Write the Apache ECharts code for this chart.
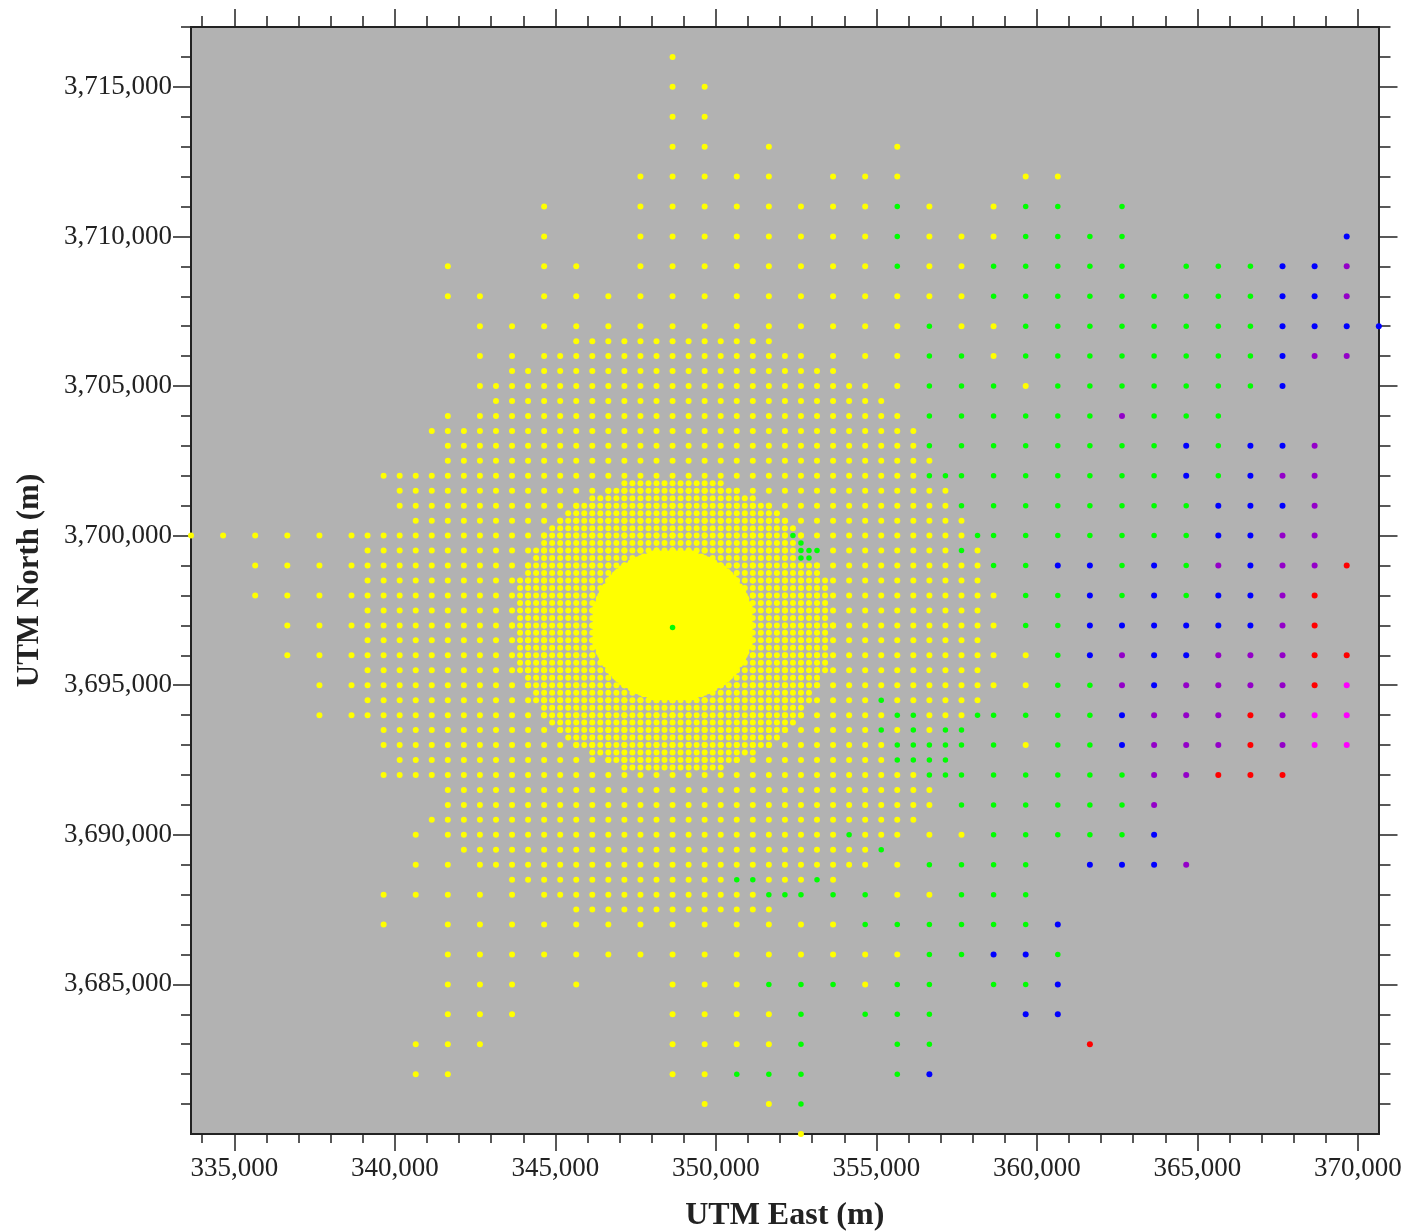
<!DOCTYPE html>
<html><head><meta charset="utf-8">
<style>html,body{margin:0;padding:0;background:#fff}#c{width:1408px;height:1232px}</style>
<script src="https://cdn.jsdelivr.net/npm/echarts@6/dist/echarts.min.js"></script>
</head><body><div id="c"></div>
<script>
// All coordinates in km (UTM). A row is [north, entries]; an entry is an east value or a span [from, to, step].
const xMajor=[335,340,345,350,355,360,365,370];
const yMajor=[3685,3690,3695,3700,3705,3710,3715];
const xMinor=[334,336,337,338,339,341,342,343,344,346,347,348,349,351,352,353,354,356,357,358,359,361,362,363,364,366,367,368,369];
const yMinor=[3681,3682,3683,3684,3686,3687,3688,3689,3691,3692,3693,3694,3696,3697,3698,3699,3701,3702,3703,3704,3706,3707,3708,3709,3711,3712,3713,3714,3716,3717];
const source=[348.65,3697];
// half widths of the filled rows around the source, from the centre row outwards
const ringHalfWidths=[5,4.75,4.75,4.75,4.75,4.75,4.75,4.5,4.5,4.25,4.25,4,4,3.75,3.5,3.25,3,2.5,2,1.5];
const diskHalfWidths=[2.5,2.4,2.4,2.4,2.4,2.4,2.4,2.4,2.3,2.3,2.2,2.2,2.1,2.1,2,2,1.9,1.8,1.7,1.6,1.5,1.3,1.1,.9,.7,0];
const yellowRows=[
[3716,[348.65]],[3715,[348.65,349.65]],[3714,[348.65,349.65]],[3713,[348.65,349.65,351.65,355.65]],
[3712,[347.65,348.65,349.65,350.65,351.65,353.65,354.65,355.65,359.65,360.65]],
[3711,[344.65,[347.65,354.65,1],356.65,358.65]],
[3710,[344.65,[347.65,354.65,1],356.65,357.65,358.65]],
[3709,[341.65,344.65,345.65,[347.65,354.65,1],356.65,357.65]],
[3708,[341.65,342.65,344.65,345.65,346.65,[347.65,357.65,1]]],
[3707,[342.65,343.65,344.65,345.65,346.65,[347.65,355.65,1],357.65,358.65]],
[3706.5,[[345.65,351.65,.5]]],
[3706,[342.65,343.65,344.65,[345.15,352.65,.5],353.65,354.65,355.65,358.65]],
[3705.5,[[343.65,353.65,.5]]],
[3705,[[342.65,354.65,.5],355.65,359.65]],
[3704.5,[[343.15,355.15,.5]]],
[3704,[341.65,[342.65,355.65,.5]]],
[3703.5,[[341.15,356.15,.5]]],
[3703,[[341.65,356.15,.5]]],
[3702.5,[[341.65,356.65,.5]]],
[3702,[[339.65,356.15,.5]]],
[3701.5,[[340.15,357.15,.5]]],
[3701,[[340.15,357.15,.5]]],
[3700.5,[[340.65,357.65,.5]]],
[3700,[333.65,334.65,335.65,336.65,337.65,338.65,[339.15,357.65,.5]]],
[3699.5,[[339.15,358.15,.5]]],
[3699,[335.65,336.65,337.65,338.65,[339.15,358.15,.5]]],
[3698.5,[[339.15,358.15,.5]]],
[3698,[335.65,336.65,337.65,338.65,[339.15,358.65,.5]]],
[3697.5,[[339.15,358.15,.5]]],
[3697,[336.65,337.65,338.65,[339.15,358.65,.5]]],
[3696.5,[[339.15,358.15,.5]]],
[3696,[336.65,337.65,338.65,[339.15,358.65,.5],359.65]],
[3695.5,[[339.15,358.15,.5]]],
[3695,[337.65,338.65,[339.15,358.65,.5],359.65]],
[3694.5,[[339.15,358.15,.5]]],
[3694,[337.65,338.65,[339.15,357.65,.5]]],
[3693.5,[[339.65,357.15,.5]]],
[3693,[[339.65,355.15,.5],359.65]],
[3692.5,[[340.15,355.15,.5]]],
[3692,[339.65,[340.15,356.15,.5]]],
[3691.5,[[341.65,356.65,.5]]],
[3691,[[341.65,356.65,.5]]],
[3690.5,[[341.15,356.15,.5]]],
[3690,[340.65,[341.65,355.65,.5],356.65,357.65]],
[3689.5,[[342.15,354.65,.5]]],
[3689,[340.65,341.65,[342.65,354.65,.5],355.65]],
[3688.5,[[343.65,353.65,.5]]],
[3688,[339.65,340.65,341.65,342.65,343.65,[344.65,351.15,.5],355.65,356.65]],
[3687.5,[[345.65,351.65,.5]]],
[3687,[339.65,[341.65,353.65,1]]],
[3686,[[341.65,355.65,1]]],
[3685,[341.65,342.65,343.65,345.65,348.65,349.65,350.65,354.65]],
[3684,[341.65,342.65,343.65,348.65,349.65,350.65,351.65]],
[3683,[340.65,341.65,342.65,348.65,349.65,350.65,351.65]],
[3682,[340.65,341.65,348.65,349.65]],
[3681,[349.65,351.65]],
[3680,[352.65]]];
const greenRows=[
[3711,[355.65,359.65,360.65,362.65]],
[3710,[355.65,359.65,360.65,361.65,362.65]],
[3709,[355.65,358.65,359.65,360.65,361.65,362.65,364.65,365.65,366.65]],
[3708,[[358.65,366.65,1]]],
[3707,[356.65,[359.65,366.65,1]]],
[3706,[356.65,357.65,[359.65,366.65,1]]],
[3705,[356.65,357.65,358.65,[360.65,366.65,1]]],
[3704,[356.65,357.65,358.65,359.65,360.65,361.65,363.65,364.65,365.65]],
[3703,[356.65,357.65,358.65,359.65,360.65,361.65,362.65,363.65,365.65]],
[3702,[356.65,357.15,357.65,358.65,359.65,360.65,361.65,362.65,363.65,365.65]],
[3701,[357.65,358.65,359.65,360.65,361.65,362.65,363.65,364.65]],
[3700,[352.4,358.15,358.65,359.65,360.65,361.65,362.65,363.65,364.65]],
[3699.75,[352.65]],
[3699.5,[352.65,352.9,353.15,357.65]],
[3699.25,[352.65,352.9]],
[3699,[358.65,359.65,362.65,364.65]],
[3698,[359.65,360.65,362.65,364.65]],
[3697,[359.65,360.65]],
[3696.93,[348.65]],
[3696,[360.65]],
[3695,[360.65,361.65]],
[3694.5,[355.15]],
[3694,[355.65,356.15,358.15,358.65,359.65,360.65,361.65]],
[3693.5,[355.15,356.15,357.15,357.65]],
[3693,[355.65,356.15,356.65,357.15,357.65,358.65,360.65,361.65]],
[3692.5,[355.65,356.15,356.65,357.15]],
[3692,[356.65,357.15,357.65,358.65,359.65,360.65,361.65,362.65]],
[3691,[357.65,358.65,359.65,360.65,361.65,362.65]],
[3690,[354.15,358.65,359.65,360.65,361.65,362.65]],
[3689.5,[355.15]],
[3689,[356.65,357.65,358.65,359.65]],
[3688.5,[350.65,351.15,353.15]],
[3688,[351.65,352.15,352.65,353.65,354.65,357.65,358.65,359.65]],
[3687,[354.65,355.65,356.65,357.65,358.65,359.65]],
[3686,[356.65,357.65,360.65]],
[3685,[351.65,352.65,353.65,355.65,356.65,358.65,359.65]],
[3684,[352.65,354.65,355.65,356.65]],
[3683,[352.65,355.65,356.65]],
[3682,[350.65,351.65,352.65,355.65]],
[3681,[352.65]]];
const blueRows=[
[3710,[369.65]],[3709,[367.65,368.65]],[3708,[367.65,368.65]],[3707,[367.65,368.65,369.65,370.65]],
[3706,[367.65]],[3705,[367.65]],[3703,[364.65,366.65,367.65]],[3702,[364.65,366.65]],
[3701,[365.65,366.65,367.65]],[3700,[365.65,366.65]],[3699,[360.65,361.65,363.65,366.65]],
[3698,[361.65,363.65,365.65,366.65]],[3697,[361.65,362.65,363.65,364.65,365.65,366.65]],
[3696,[361.65,363.65,364.65]],[3695,[363.65]],[3694,[362.65]],[3693,[362.65]],[3690,[363.65]],
[3689,[361.65,362.65,363.65]],[3687,[360.65]],[3686,[358.65,359.65]],[3685,[360.65]],
[3684,[359.65,360.65]],[3682,[356.65]]];
const purpleRows=[
[3709,[369.65]],[3708,[369.65]],[3706,[368.65,369.65]],[3704,[362.65]],[3703,[368.65]],
[3702,[367.65,368.65]],[3701,[368.65]],[3700,[367.65,368.65]],[3699,[365.65,367.65,368.65]],
[3698,[367.65]],[3697,[367.65]],[3696,[362.65,365.65,366.65,367.65]],
[3695,[362.65,364.65,365.65,366.65,367.65]],[3694,[363.65,364.65,365.65,367.65]],
[3693,[363.65,364.65,365.65,367.65]],[3692,[363.65,364.65]],[3691,[363.65]],[3689,[364.65]]];
const redRows=[
[3699,[369.65]],[3698,[368.65]],[3697,[368.65]],[3696,[368.65,369.65]],[3695,[368.65]],
[3694,[366.65]],[3693,[366.65]],[3692,[365.65,366.65,367.65]],[3683,[361.65]]];
const magentaRows=[[3695,[369.65]],[3694,[368.65,369.65]],[3693,[368.65,369.65]]];

const km=v=>Math.round(v*1000);
function expand(rows){
  const out=[];
  rows.forEach(([n,items])=>items.forEach(it=>{
    if(Array.isArray(it)){ for(let x=km(it[0]);x<=km(it[1]);x+=km(it[2])) out.push([x,km(n)]); }
    else out.push([km(it),km(n)]);
  }));
  return out;
}
function symmetric(widths,step){
  const rows=[];
  widths.forEach((w,i)=>{
    const d=i*step;
    rows.push([source[1]+d,[[source[0]-w,source[0]+w,step]]]);
    if(i) rows.push([source[1]-d,[[source[0]-w,source[0]+w,step]]]);
  });
  return rows;
}
const layers=[
 {rows:greenRows,color:'#00ff00',size:5.5},
 {rows:blueRows,color:'#0000ff',size:6},
 {rows:purpleRows,color:'#9400c8',size:6},
 {rows:redRows,color:'#ff0000',size:6},
 {rows:magentaRows,color:'#ff00ff',size:6}
].map(l=>({...l,data:expand(l.rows)}));
const taken=new Set();
layers.forEach(l=>l.data.forEach(p=>{taken.add(p[0]+'|'+p[1]);}));
const yellow=expand(yellowRows).concat(expand(symmetric(ringHalfWidths,.25)),expand(symmetric(diskHalfWidths,.1)))
  .filter(p=>!taken.has(p[0]+'|'+p[1]));
const mk=(data,color,size)=>({type:'scatter',data,symbol:'circle',symbolSize:size,clip:false,silent:true,animation:false,itemStyle:{color,opacity:1},xAxisIndex:0,yAxisIndex:0});

const xMin=333650,xMax=370640,yMin=3680000,yMax=3717000;
const ink='#222';
const fmt=v=>Number(v).toLocaleString('en-US');
const labelFont={fontFamily:'"Liberation Serif"',fontSize:27,color:'#222'};
const m=a=>a.map(km);
const hx=(position,vals,length,extra)=>Object.assign({type:'value',position,min:xMin,max:xMax,splitLine:{show:false},
  axisLine:{show:true,onZero:false,lineStyle:{color:ink,width:2}},
  axisTick:{show:true,length,customValues:m(vals),lineStyle:{color:ink,width:1.5}},axisLabel:{show:false}},extra||{});
const hy=(position,vals,length,extra)=>Object.assign({type:'value',position,min:yMin,max:yMax,splitLine:{show:false},
  axisLine:{show:true,onZero:false,lineStyle:{color:ink,width:2}},
  axisTick:{show:true,length,customValues:m(vals),lineStyle:{color:ink,width:1.5}},axisLabel:{show:false}},extra||{});

const chart=echarts.init(document.getElementById('c'),null,{renderer:'canvas'});
chart.setOption({
  animation:false,
  backgroundColor:'#ffffff',
  grid:{left:191,top:27,width:1187.5,height:1107,show:true,backgroundColor:'#b2b2b2',borderWidth:0,containLabel:false,outerBoundsMode:'none'},
  xAxis:[
    hx('bottom',xMajor,17,{name:'UTM East (m)',nameLocation:'middle',nameGap:66,
      nameTextStyle:{fontFamily:'"Liberation Serif"',fontSize:32,fontWeight:'bold',color:'#222'},
      axisLabel:Object.assign({show:true,margin:21,customValues:m(xMajor),formatter:fmt},labelFont)}),
    hx('bottom',xMinor,9),
    hx('top',xMajor,18),
    hx('top',xMinor,11)
  ],
  yAxis:[
    hy('left',yMajor,18,{name:'UTM North (m)',nameLocation:'middle',nameGap:146,
      nameTextStyle:{fontFamily:'"Liberation Serif"',fontSize:31,fontWeight:'bold',color:'#222'},
      axisLabel:Object.assign({show:true,margin:19,customValues:m(yMajor),formatter:fmt},labelFont)}),
    hy('left',yMinor,10),
    hy('right',yMajor,19),
    hy('right',yMinor,12)
  ],
  series:[mk(yellow,'#ffff00',6)].concat(layers.map(l=>mk(l.data,l.color,l.size)))
});
</script></body></html>
